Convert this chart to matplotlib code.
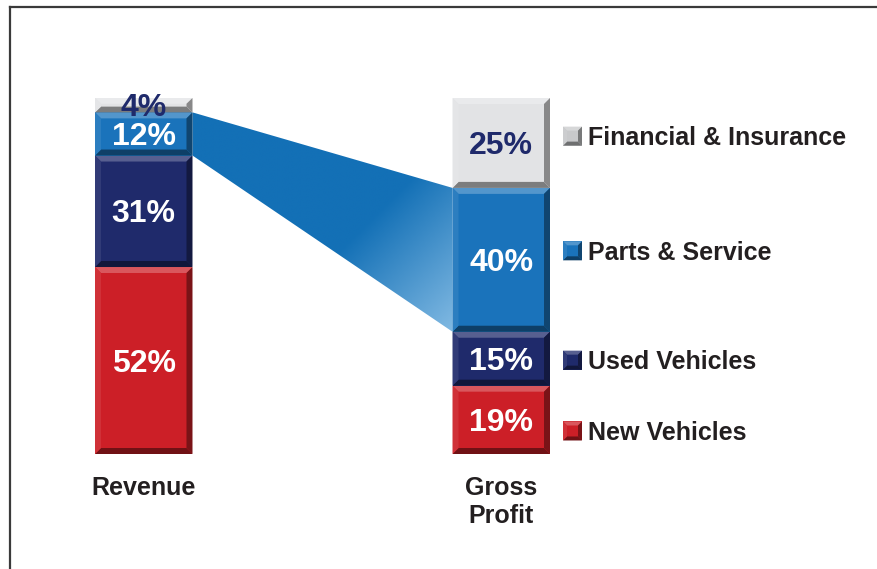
import numpy as np
import matplotlib.pyplot as plt
from matplotlib.patches import Polygon, Rectangle
from matplotlib.lines import Line2D
from matplotlib.colors import LinearSegmentedColormap, to_rgb

plt.rcParams['font.family'] = ['Liberation Sans', 'DejaVu Sans']

categories = ['Revenue', 'Gross\nProfit']
segments = ['New Vehicles', 'Used Vehicles', 'Parts & Service', 'Financial & Insurance']
revenue = [52, 31, 12, 4]
gross_profit = [19, 15, 40, 25]

colors = ['#cc1f27', '#1f2a6b', '#1a73bb', '#e2e3e5']
text_colors = ['white', 'white', 'white', '#1f2a6b']

W, H = 878, 569
fig = plt.figure(figsize=(W / 100, H / 100), dpi=100)
ax = fig.add_axes([95 / W, (H - 454) / H, 455 / W, 356 / H])
w = 0.2727
ax.set_xlim(-w / 2, 1 + w / 2)
ax.set_ylim(0, 99)
px_x = 455 / (1 + w)   # pixels per x unit
px_y = 356 / 99        # pixels per y unit


def shade(c, f):
    c = np.array(to_rgb(c))
    if f > 0:
        return tuple(c + (1 - c) * f)
    return tuple(c * (1 + f))


def bevel(x0, y0, bw, bh, color, b=5):
    x1, y1 = x0 + bw, y0 + bh
    bx = b / px_x
    by = min(b / px_y, bh * 0.4)
    ax.add_patch(Rectangle((x0, y0), bw, bh, color=color, lw=0, clip_on=False, zorder=3))
    parts = [
        ([(x0, y1), (x1, y1), (x1 - bx, y1 - by), (x0 + bx, y1 - by)], 0.25),
        ([(x0, y0), (x1, y0), (x1 - bx, y0 + by), (x0 + bx, y0 + by)], -0.45),
        ([(x0, y0), (x0, y1), (x0 + bx, y1 - by), (x0 + bx, y0 + by)], 0.08),
        ([(x1, y0), (x1, y1), (x1 - bx, y1 - by), (x1 - bx, y0 + by)], -0.4),
    ]
    for pts, f in parts:
        ax.add_patch(Polygon(pts, closed=True, color=shade(color, f), lw=0,
                             clip_on=False, zorder=3))


# connecting wedge between the Parts & Service segments
rev_lo, rev_hi = sum(revenue[:2]), sum(revenue[:3])
gp_lo, gp_hi = sum(gross_profit[:2]), sum(gross_profit[:3])
wedge = Polygon([(w / 2, rev_hi), (w / 2, rev_lo), (1 - w / 2, gp_lo), (1 - w / 2, gp_hi)],
                closed=True, facecolor='none', edgecolor='none')
ax.add_patch(wedge)
xs = np.linspace(w / 2, 1 - w / 2, 300)
ys = np.linspace(gp_lo, rev_hi, 300)
gx, gy = np.meshgrid(xs, ys)
spx = 95 + (gx + w / 2) * px_x
spy = 454 - gy * px_y
t = np.clip((spx + spy - 590) / 195, 0, 1)
cmap = LinearSegmentedColormap.from_list('wedge', ['#1370b6', '#82bae3'])
img = ax.imshow(t, cmap=cmap, origin='lower', aspect='auto', vmin=0, vmax=1,
                extent=[w / 2, 1 - w / 2, gp_lo, rev_hi], zorder=1)
img.set_clip_path(wedge)

# stacked bars
for xi, vals in enumerate([revenue, gross_profit]):
    bottom = 0
    for val, col, tc in zip(vals, colors, text_colors):
        bevel(xi - w / 2, bottom, w, val, col, b=6)
        ax.text(xi, bottom + val / 2 - 3 / px_y, f'{val}%', ha='center', va='center',
                color=tc, fontsize=23, fontweight='bold', zorder=5)
        bottom += val

# legend
legend_y = [6.4, 26.1, 56.5, 88.4]
mx = 1 + w / 2 + 13 / px_x
ms_x, ms_y = 19 / px_x, 19 / px_y
for name, col, ly in zip(segments, colors, legend_y):
    c = '#c8c9cb' if col == '#e2e3e5' else col
    bevel(mx, ly - ms_y / 2, ms_x, ms_y, c, b=4)
    ax.text(mx + 25 / px_x, ly - 2 / px_y, name, ha='left', va='center', fontsize=18,
            fontweight='bold', color='#231f20', clip_on=False)

ax.set_xticks([0, 1], categories)
ax.tick_params(axis='x', length=0, pad=16, labelsize=18, labelcolor='#231f20')
for lbl in ax.get_xticklabels():
    lbl.set_fontweight('bold')
ax.set_yticks([])
for s in ax.spines.values():
    s.set_visible(False)

# slide frame
fig.add_artist(Line2D([10 / W, 1], [1 - 7 / H, 1 - 7 / H], color='#3a3a3a', lw=1.6))
fig.add_artist(Line2D([10 / W, 10 / W], [0, 1 - 7 / H], color='#3a3a3a', lw=1.6))

fig.savefig('out.png', dpi=100)
